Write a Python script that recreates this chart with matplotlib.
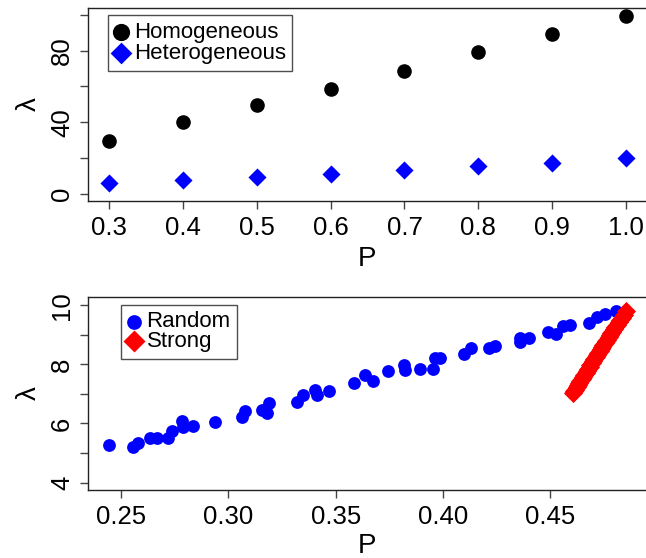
import matplotlib
matplotlib.use("Agg")
import matplotlib.pyplot as plt

plt.rcParams['font.family'] = ['Liberation Sans', 'DejaVu Sans']

# --- top panel data ---
p_top = [0.3, 0.4, 0.5, 0.6, 0.7, 0.8, 0.9, 1.0]
lam_homog = [29.6, 40.0, 49.6, 58.8, 68.8, 79.3, 89.2, 99.0]
lam_heterog = [6.2, 7.8, 9.5, 11.2, 13.4, 15.4, 17.3, 19.9]

# --- bottom panel data ---
p_random = [0.2441, 0.2557, 0.2578, 0.2635, 0.2666, 0.2716, 0.2736, 0.2783, 0.2788,
            0.2837, 0.2938, 0.3063, 0.3078, 0.3156, 0.3180, 0.3187, 0.3319, 0.3350,
            0.3405, 0.3413, 0.3467, 0.3584, 0.3638, 0.3674, 0.3744, 0.3821, 0.3825,
            0.3892, 0.3954, 0.3965, 0.3985, 0.4097, 0.4133, 0.4214, 0.4244, 0.4358,
            0.4361, 0.4404, 0.4488, 0.4529, 0.4560, 0.4591, 0.4680, 0.4719, 0.4757,
            0.4809]
lam_random = [5.27, 5.22, 5.33, 5.52, 5.52, 5.50, 5.76, 6.08, 5.89,
              5.92, 6.06, 6.23, 6.43, 6.46, 6.36, 6.68, 6.74, 6.96,
              7.13, 6.96, 7.11, 7.38, 7.64, 7.45, 7.78, 7.98, 7.81,
              7.83, 7.86, 8.20, 8.22, 8.35, 8.54, 8.54, 8.62, 8.76,
              8.88, 8.88, 9.10, 9.02, 9.29, 9.33, 9.41, 9.61, 9.72,
              9.81]
p_strong = [0.4605, 0.4612, 0.4618, 0.4625, 0.4630, 0.4636, 0.4641, 0.4648, 0.4652,
            0.4660, 0.4666, 0.4670, 0.4677, 0.4684, 0.4688, 0.4695, 0.4701, 0.4706,
            0.4712, 0.4719, 0.4725, 0.4731, 0.4736, 0.4743, 0.4749, 0.4755, 0.4760,
            0.4767, 0.4773, 0.4779, 0.4786, 0.4791, 0.4798, 0.4805, 0.4812, 0.4820,
            0.4828, 0.4836, 0.4845, 0.4855]
lam_strong = [7.02, 7.10, 7.15, 7.24, 7.31, 7.36, 7.44, 7.50, 7.58,
              7.63, 7.72, 7.76, 7.85, 7.90, 7.98, 8.05, 8.10, 8.19,
              8.24, 8.33, 8.37, 8.45, 8.52, 8.58, 8.66, 8.71, 8.79,
              8.84, 8.93, 8.98, 9.06, 9.11, 9.19, 9.26, 9.33, 9.42,
              9.50, 9.58, 9.68, 9.80]

top_xticks = [0.3, 0.4, 0.5, 0.6, 0.7, 0.8, 0.9, 1.0]
top_yticks = [0, 20, 40, 60, 80, 100]
top_ylabels = ['0', '', '40', '', '80', '']
bot_xticks = [0.25, 0.30, 0.35, 0.40, 0.45]
bot_yticks = [4, 5, 6, 7, 8, 9, 10]
bot_ylabels = ['4', '', '6', '', '8', '', '10']

W, H = 646, 558
fig = plt.figure(figsize=(W / 100, H / 100), dpi=100)

def style_axes(ax):
    for s in ax.spines.values():
        s.set_linewidth(1.0)
        s.set_color('#222222')
    ax.tick_params(direction='out', length=6, width=1.0, color='#444444',
                   labelsize=18.5, pad=5)
    ax.tick_params(axis='y', labelrotation=90, pad=4)
    for lab in ax.get_yticklabels():
        lab.set_va('center')

# top panel
ax1 = fig.add_axes([88 / W, 1 - 201 / H, (647 - 88) / W, (201 - 8) / H])
ax1.scatter(p_top, lam_homog, s=90, c='black', marker='o', label='Homogeneous')
ax1.scatter(p_top, lam_heterog, s=85, c='#0000ff', marker='D', linewidths=0,
            label='Heterogeneous')
ax1.set_xlim(0.272, 1.028)
ax1.set_ylim(-3.9, 103.7)
ax1.set_xticks(top_xticks)
ax1.set_xticklabels(['%.1f' % v for v in top_xticks])
ax1.set_yticks(top_yticks)
ax1.set_yticklabels(top_ylabels)
style_axes(ax1)
ax1.set_xlabel('P', fontsize=20, labelpad=4)
ax1.set_ylabel('λ', fontsize=20, labelpad=6)
leg1 = ax1.legend(loc='upper left', bbox_to_anchor=(0.036, 0.962), fontsize=16,
                  frameon=True, fancybox=False, edgecolor='#222222',
                  handlelength=0.6, handletextpad=0.25, labelspacing=0.0,
                  borderpad=0.3, borderaxespad=0, markerscale=1.2)
leg1.get_frame().set_linewidth(1.0)

# bottom panel
ax2 = fig.add_axes([88 / W, 1 - 490 / H, (647 - 88) / W, (490 - 297) / H])
ax2.scatter(p_random, lam_random, s=85, c='#0000ff', marker='o', linewidths=0,
            label='Random')
ax2.scatter(p_strong, lam_strong, s=95, c='#ff0000', marker='D', linewidths=0,
            label='Strong')
ax2.set_xlim(0.2345, 0.4952)
ax2.set_ylim(3.75, 10.28)
ax2.set_xticks(bot_xticks)
ax2.set_xticklabels(['%.2f' % v for v in bot_xticks])
ax2.set_yticks(bot_yticks)
ax2.set_yticklabels(bot_ylabels)
style_axes(ax2)
ax2.set_xlabel('P', fontsize=20, labelpad=3)
ax2.set_ylabel('λ', fontsize=20, labelpad=6)
leg2 = ax2.legend(loc='upper left', bbox_to_anchor=(0.059, 0.96), fontsize=16,
                  frameon=True, fancybox=False, edgecolor='#222222',
                  handlelength=0.6, handletextpad=0.25, labelspacing=-0.05,
                  borderpad=0.3, borderaxespad=0, markerscale=1.15)
leg2.get_frame().set_linewidth(1.0)

fig.savefig('out.png', dpi=100)
